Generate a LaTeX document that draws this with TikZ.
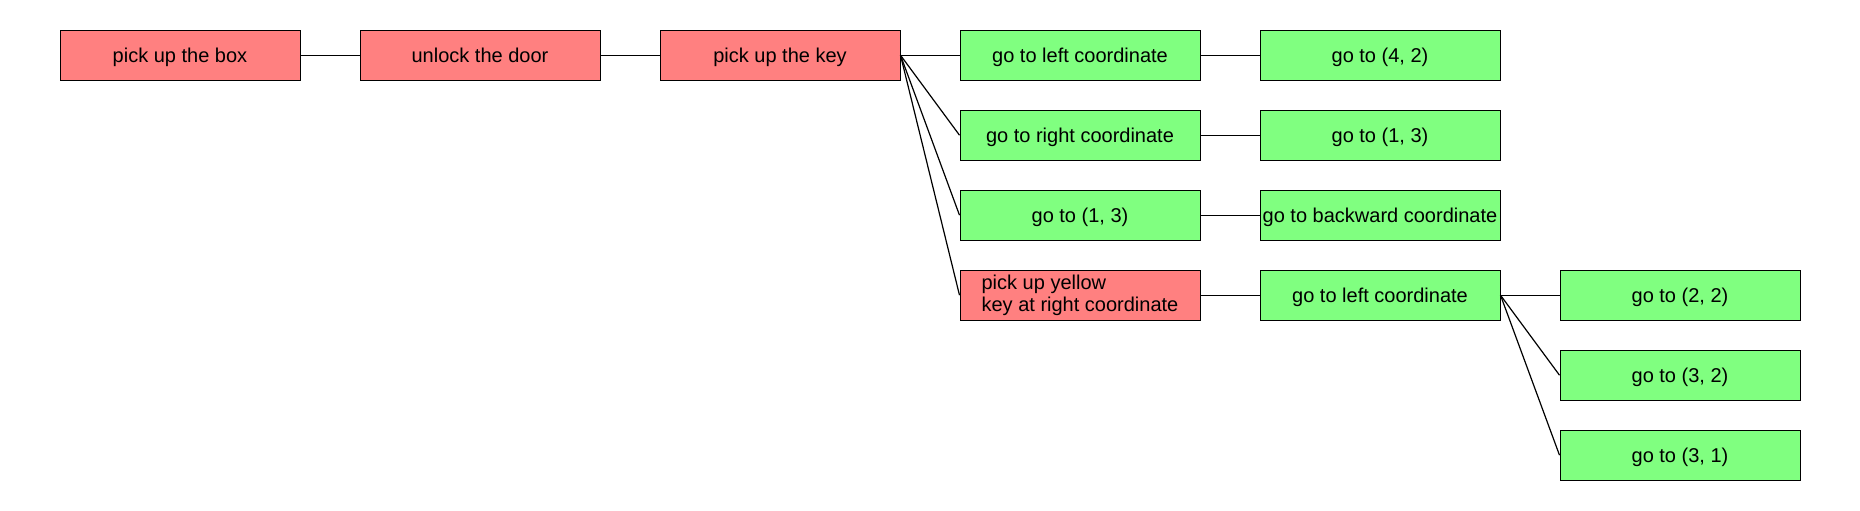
\documentclass[tikz,border=0pt]{standalone}
\usepackage{fontspec}
\setmainfont{Liberation Sans}
\usepackage{tikz}
\usetikzlibrary{positioning}

\definecolor{taskred}{RGB}{255,128,128}
\definecolor{taskgreen}{RGB}{128,255,128}

\begin{document}
\begin{tikzpicture}[-,line width=0.6pt,node distance=14.5pt and 29.5pt,
		base node/.style={rectangle,draw,line width=0.5pt,minimum width=120pt,minimum height=25pt,inner sep=1pt,font=\fontsize{10}{11.2}\selectfont},
		red node/.style={base node,fill=taskred,text height=7.2pt,text depth=0.2pt}, green node/.style={base node,fill=taskgreen,text height=7.2pt,text depth=0.2pt}]
		
		\useasboundingbox (0,0) rectangle (930pt,-255pt);
		
		\node[red node](box) at (90pt,-27.6pt){pick up the box};
		\node[red node](door)[right=of box]{unlock the door};
		\node[red node](key)[right=of door]{pick up the key};
		\node[green node](left)[right=of key]{go to left coordinate};
		\node[green node](p42)[right=of left]{go to (4, 2)};
		\node[green node](right)[below=of left]{go to right coordinate};
		\node[green node](p13)[right=of right]{go to (1, 3)};
		\node[green node](goto13)[below=of right]{go to (1, 3)};
		\node[green node](back)[right=of goto13]{go to backward coordinate};
		\node[base node,fill=taskred,align=left](yellow)[below=of goto13]{pick up yellow\\key at right coordinate};
		\node[green node](left2)[right=of yellow]{go to left coordinate};
		\node[green node](p22)[right=of left2]{go to (2, 2)};
		\node[green node](p32)[below=of p22]{go to (3, 2)};
		\node[green node](p31)[below=of p32]{go to (3, 1)};
		
		\path[]
		(box) edge (door)
		(door) edge (key)
		(key.east) edge (left.west)
		(key.east) edge (right.west)
		(key.east) edge (goto13.west)
		(key.east) edge (yellow.west)
		(left) edge (p42)
		(right) edge (p13)
		(goto13) edge (back)
		(yellow) edge (left2)
		(left2.east) edge (p22.west)
		(left2.east) edge (p32.west)
		(left2.east) edge (p31.west);
		
	\end{tikzpicture}
\end{document}
